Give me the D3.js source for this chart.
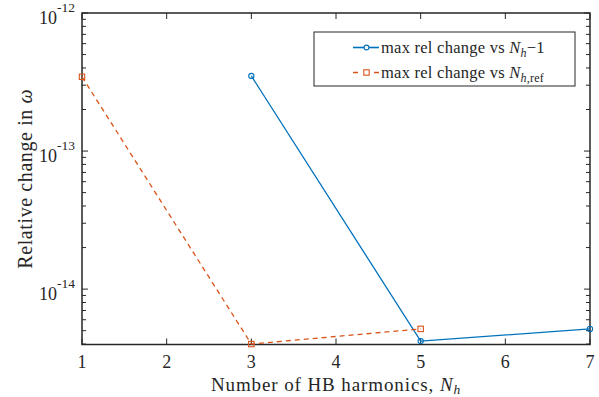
<!DOCTYPE html>
<html>
<head>
<meta charset="utf-8">
<script src="https://cdn.jsdelivr.net/npm/d3@7"></script>
<style>
  html, body { margin: 0; padding: 0; background: #fff; }
  svg { display: block; }
</style>
</head>
<body>
<svg id="chart" width="599" height="397"></svg>
<script>
// Harmonic counts and convergence measures
const harmonicsVsPrev = [3, 5, 7];
const relChangeVsPrev = [3.5e-13, 4.2e-15, 5.15e-15];
const harmonicsVsRef = [1, 3, 5];
const relChangeVsRef = [3.45e-13, 4.0e-15, 5.15e-15];
const xTicks = [1, 2, 3, 4, 5, 6, 7];
const yMajorExps = [-14, -13, -12];

const FONT = "Liberation Serif";
const svg = d3.select("#chart");
const m = { left: 82, right: 590, top: 13, bottom: 344.5 };
const axisColor = "#262626";

const x = d3.scaleLinear().domain([1, 7]).range([m.left, m.right]);
const y = d3.scaleLog().domain([3.97e-15, 1e-12]).range([m.bottom, m.top]);

const g = svg.append("g");

// Ticks point inward and are mirrored on the opposite sides of the box
const majorLen = 6, minorLen = 4;
xTicks.forEach(t => {
  const px = x(t);
  g.append("line").attr("x1", px).attr("x2", px).attr("y1", m.bottom).attr("y2", m.bottom - majorLen)
    .attr("stroke", axisColor).attr("stroke-width", 1);
  g.append("line").attr("x1", px).attr("x2", px).attr("y1", m.top).attr("y2", m.top + majorLen)
    .attr("stroke", axisColor).attr("stroke-width", 1);
  g.append("text").attr("x", px).attr("y", 368).attr("text-anchor", "middle")
    .attr("font-family", FONT).attr("font-size", 18).attr("fill", axisColor).text(t);
});

const [yLo, yHi] = y.domain();
for (let e = -15; e <= -12; e++) {
  for (let k = 1; k <= 9; k++) {
    const v = k * Math.pow(10, e);
    if (v < yLo * 0.999 || v > yHi * 1.001) continue;
    const py = y(v);
    const len = k === 1 ? majorLen : minorLen;
    g.append("line").attr("x1", m.left).attr("x2", m.left + len).attr("y1", py).attr("y2", py)
      .attr("stroke", axisColor).attr("stroke-width", 1);
    g.append("line").attr("x1", m.right).attr("x2", m.right - len).attr("y1", py).attr("y2", py)
      .attr("stroke", axisColor).attr("stroke-width", 1);
  }
}
yMajorExps.forEach(e => {
  const py = y(Math.pow(10, e));
  const t = g.append("text").attr("x", 75).attr("y", py + 11).attr("text-anchor", "end")
    .attr("font-family", FONT).attr("font-size", 18).attr("fill", axisColor);
  t.append("tspan").text("10");
  t.append("tspan").attr("dy", -12).attr("font-size", 13.5).text(String(e));
});

// Axis box
g.append("rect").attr("x", m.left).attr("y", m.top)
  .attr("width", m.right - m.left).attr("height", m.bottom - m.top)
  .attr("fill", "none").attr("stroke", axisColor).attr("stroke-width", 1.5);

// Axis labels
const xl = svg.append("text").attr("x", 336).attr("y", 391)
  .attr("text-anchor", "middle").attr("font-family", FONT).attr("font-size", 19)
  .attr("letter-spacing", 0.9).attr("fill", axisColor);
xl.append("tspan").text("Number of HB harmonics, ");
xl.append("tspan").attr("font-style", "italic").text("N");
xl.append("tspan").attr("font-style", "italic").attr("font-size", 13.5).attr("dy", 3).text("h");

const yl = svg.append("text").attr("transform", `translate(32,${(m.top + m.bottom) / 2}) rotate(-90)`)
  .attr("text-anchor", "middle").attr("font-family", FONT).attr("font-size", 20)
  .attr("letter-spacing", 0.6).attr("fill", axisColor);
yl.append("tspan").text("Relative change in ");
yl.append("tspan").attr("font-style", "italic").text("ω");

// Series
const blue = "#0072BD", orange = "#D95319";
const line = d3.line().x(d => x(d[0])).y(d => y(d[1]));
const prevPts = harmonicsVsPrev.map((h, i) => [h, relChangeVsPrev[i]]);
const refPts = harmonicsVsRef.map((h, i) => [h, relChangeVsRef[i]]);

svg.append("path").datum(prevPts).attr("d", line).attr("fill", "none")
  .attr("stroke", blue).attr("stroke-width", 1.3);
svg.selectAll(".c").data(prevPts).enter().append("circle")
  .attr("cx", d => x(d[0])).attr("cy", d => y(d[1])).attr("r", 2.6)
  .attr("fill", "none").attr("stroke", blue).attr("stroke-width", 1.1);

svg.append("path").datum(refPts).attr("d", line).attr("fill", "none")
  .attr("stroke", orange).attr("stroke-width", 1.3).attr("stroke-dasharray", "5,4");
svg.selectAll(".s").data(refPts).enter().append("rect")
  .attr("x", d => x(d[0]) - 2.7).attr("y", d => y(d[1]) - 2.7).attr("width", 5.4).attr("height", 5.4)
  .attr("fill", "none").attr("stroke", orange).attr("stroke-width", 1.1);

// Legend
const lg = svg.append("g");
lg.append("rect").attr("x", 314).attr("y", 32).attr("width", 261).attr("height", 54)
  .attr("fill", "#fff").attr("stroke", axisColor).attr("stroke-width", 1);
const ly1 = 47.5, ly2 = 72.5;
lg.append("line").attr("x1", 353).attr("x2", 379).attr("y1", ly1).attr("y2", ly1)
  .attr("stroke", blue).attr("stroke-width", 1.6);
lg.append("circle").attr("cx", 366.5).attr("cy", ly1).attr("r", 2.4)
  .attr("fill", "#fff").attr("stroke", blue).attr("stroke-width", 1.1);
lg.append("line").attr("x1", 353).attr("x2", 379).attr("y1", ly2).attr("y2", ly2)
  .attr("stroke", orange).attr("stroke-width", 1.6).attr("stroke-dasharray", "5,16,5");
lg.append("rect").attr("x", 366.5 - 2.7).attr("y", ly2 - 2.7).attr("width", 5.4).attr("height", 5.4)
  .attr("fill", "#fff").attr("stroke", orange).attr("stroke-width", 1.1);

const t1 = lg.append("text").attr("x", 381).attr("y", ly1 + 5).attr("font-family", FONT)
  .attr("font-size", 16.5).attr("letter-spacing", 0.25).attr("fill", axisColor);
t1.append("tspan").text("max rel change vs ");
t1.append("tspan").attr("font-style", "italic").text("N");
t1.append("tspan").attr("font-style", "italic").attr("font-size", 12).attr("dy", 4).text("h");
t1.append("tspan").attr("dy", -4).text("\u22121");

const t2 = lg.append("text").attr("x", 381).attr("y", ly2 + 5).attr("font-family", FONT)
  .attr("font-size", 16.5).attr("letter-spacing", 0.25).attr("fill", axisColor);
t2.append("tspan").text("max rel change vs ");
t2.append("tspan").attr("font-style", "italic").text("N");
t2.append("tspan").attr("font-style", "italic").attr("font-size", 12).attr("dy", 4).text("h");
t2.append("tspan").attr("font-size", 12).text(",ref");
</script>
</body>
</html>
